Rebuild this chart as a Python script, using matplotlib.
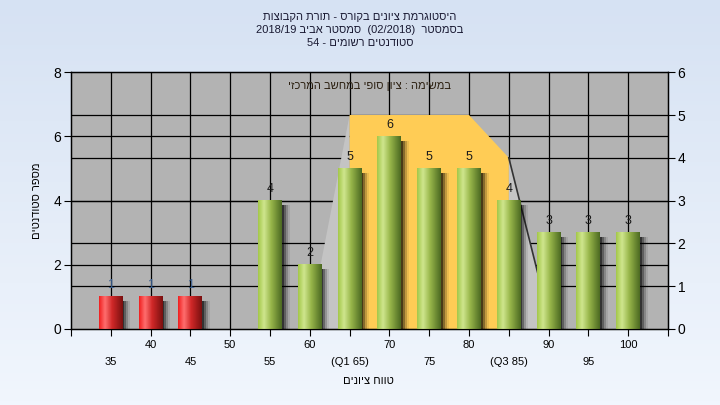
import numpy as np
import matplotlib.pyplot as plt
from matplotlib.colors import LinearSegmentedColormap
from matplotlib.patches import Polygon, Rectangle

plt.rcParams['font.family'] = ['Liberation Sans', 'DejaVu Sans']

# ---- data ----
grades = [35, 40, 45, 50, 55, 60, 65, 70, 75, 80, 85, 90, 95, 100]
counts = [1, 1, 1, 0, 4, 2, 5, 6, 5, 5, 4, 3, 3, 3]
pass_grade = 55

# quartile band (right axis units)
band_x = [65, 80, 85]
band_y = [5, 5, 4]

upper_labels = {40: '40', 50: '50', 60: '60', 70: '70', 80: '80', 90: '90', 100: '100'}
lower_labels = {35: '35', 45: '45', 55: '55', 65: '(Q1 65)', 75: '75', 85: '(Q3 85)', 95: '95'}


def heb(s):
    # matplotlib has no bidi support: reverse the hebrew runs for display
    return s[::-1]


title_lines = [
    heb('היסטוגרמת ציונים בקורס - תורת הקבוצות'),
    '2018/19 ' + heb('סמסטר אביב') + '  (02/2018)  ' + heb('בסמסטר'),
    '54 - ' + heb('סטודנטים רשומים'),
]
inner_text = heb('ציון סופי במחשב המרכזי') + ' : ' + heb('במשימה')
y_label = heb('מספר סטודנטים')
x_label = heb('טווח ציונים')

L_MAX, R_MAX = 8, 6
scale = L_MAX / R_MAX

fig = plt.figure(figsize=(7.2, 4.05), dpi=100)

# background gradient
bg = fig.add_axes([0, 0, 1, 1], zorder=-10)
bg_cmap = LinearSegmentedColormap.from_list('bg', ['#d6e2f3', '#f1f6fd'])
bg.imshow(np.linspace(0, 1, 100).reshape(-1, 1), cmap=bg_cmap, aspect='auto',
          extent=[0, 1, 0, 1], origin='upper')
bg.axis('off')

ax = fig.add_axes([0.0986, 0.1877, 0.8292, 0.634])
ax.set_facecolor('#b3b3b3')
ax.set_xlim(30, 105)
ax.set_ylim(0, L_MAX)

# grid: vertical every 5, horizontal for both axes
for g in range(35, 105, 5):
    ax.axvline(g, color='black', lw=0.9, zorder=1)
for v in [2, 4, 6]:
    ax.axhline(v, color='black', lw=0.9, zorder=1)
for v in range(1, R_MAX):
    ax.axhline(v * scale, color='black', lw=0.9, zorder=1)

# quartile band with side wedges
left_wedge = [(band_x[0], band_y[0] * scale), (band_x[0] - 5.2, 0), (band_x[0], 0)]
right_wedge = [(band_x[-1], band_y[-1] * scale), (band_x[-1] + 5.4, 0), (band_x[-1], 0)]
ax.add_patch(Polygon(left_wedge, closed=True, fc='#c4c4c4', ec='none', zorder=2))
ax.add_patch(Polygon(right_wedge, closed=True, fc='#c4c4c4', ec='none', zorder=2))
ax.plot([right_wedge[0][0], right_wedge[1][0]], [right_wedge[0][1], right_wedge[1][1]],
        color='#333333', lw=1.2, zorder=2.5)
band = [(x, y * scale) for x, y in zip(band_x, band_y)]
band = band + [(band_x[-1], 0), (band_x[0], 0)]
ax.add_patch(Polygon(band, closed=True, fc='#ffcc55', ec='none', zorder=2.2))

# bars with cylinder-like gradient
green_cmap = LinearSegmentedColormap.from_list(
    'g', [(0, '#a4c84a'), (0.25, '#cfe68e'), (0.55, '#98b64a'), (1, '#4c6a22')])
red_cmap = LinearSegmentedColormap.from_list(
    'r', [(0, '#f02020'), (0.25, '#ff6f6f'), (0.55, '#d02828'), (1, '#7a1010')])
grad = np.linspace(0, 1, 64).reshape(1, -1)
width = 3.0

for g, c in zip(grades, counts):
    if c == 0:
        continue
    cmap = red_cmap if g < pass_grade else green_cmap
    x0, x1 = g - width / 2, g + width / 2
    # soft shadow to the right
    for k, a in [(0.2, 0.45), (0.45, 0.3), (0.7, 0.18), (0.95, 0.08)]:
        ax.add_patch(Rectangle((x0 + k, -0.05), width, c - 0.08, fc='black',
                               ec='none', alpha=a, zorder=3))
    ax.imshow(grad, cmap=cmap, extent=[x0, x1, 0, c], aspect='auto', zorder=4,
              interpolation='bilinear')
    lbl_col = '#3b5f8f' if g < pass_grade else '#1a1a1a'
    ax.annotate(str(c), xy=(g, c), xytext=(0, 4), textcoords='offset points',
                ha='center', va='bottom', fontsize=9, color=lbl_col, zorder=6)

ax.set_xlim(30, 105)
ax.set_ylim(0, L_MAX)

# axes styling
ax.set_yticks(range(0, L_MAX + 1, 2))
ax.set_xticks(range(30, 106, 5))
ax.set_xticklabels([])
ax.tick_params(axis='y', direction='out', length=5, pad=2, labelsize=10)
ax.tick_params(axis='x', direction='out', length=5)
for sp in ax.spines.values():
    sp.set_color('black')
    sp.set_linewidth(1)

for g, lbl in upper_labels.items():
    ax.annotate(lbl, xy=(g, 0), xycoords=('data', 'axes fraction'), xytext=(0, -11.5),
                textcoords='offset points', ha='center', va='center', fontsize=8)
for g, lbl in lower_labels.items():
    ax.annotate(lbl, xy=(g, 0), xycoords=('data', 'axes fraction'), xytext=(0, -24),
                textcoords='offset points', ha='center', va='center', fontsize=8)

ax2 = ax.twinx()
ax2.set_ylim(0, R_MAX)
ax2.set_yticks(range(0, R_MAX + 1))
ax2.tick_params(axis='y', direction='out', length=5, pad=2, labelsize=10)
ax2.patch.set_visible(False)

ax.text(0.5, 0.945, inner_text, transform=ax.transAxes, ha='center', va='center',
        fontsize=8, color='#2b1f10', zorder=7)

ax.set_ylabel(y_label, fontsize=8, labelpad=8)
fig.text(0.512, 0.06, x_label, ha='center', va='center', fontsize=8)

for i, line in enumerate(title_lines):
    fig.text(0.5, 0.958 - i * 0.032, line, ha='center', va='center', fontsize=8,
             color='#1a1a33')

fig.savefig('out.png', dpi=100, facecolor=fig.get_facecolor())
